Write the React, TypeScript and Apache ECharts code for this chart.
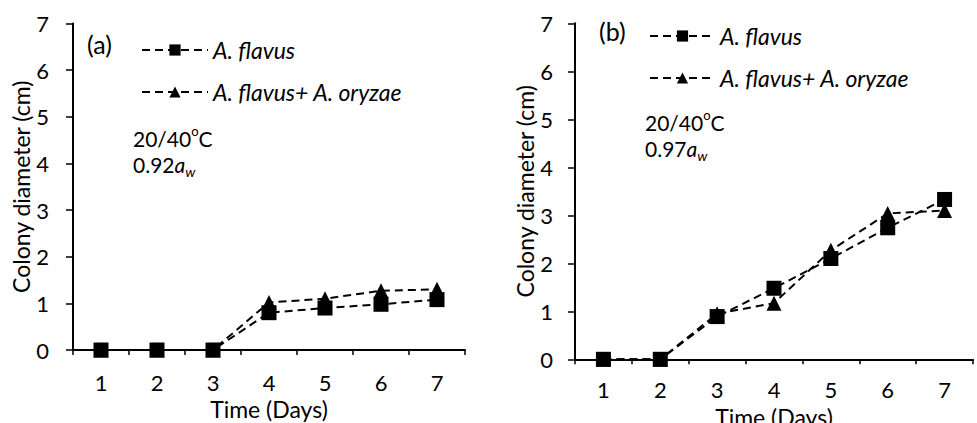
import React, { useEffect, useRef } from "react";
import * as echarts from "echarts";

const days = ["1", "2", "3", "4", "5", "6", "7"];
const flavusA = [0, 0, 0, 0.8, 0.9, 0.98, 1.08];
const mixA = [0, 0, 0, 1.02, 1.1, 1.27, 1.3];
const flavusB = [0, 0, 0.89, 1.48, 2.1, 2.74, 3.33];
const mixB = [0, 0, 0.95, 1.17, 2.27, 3.04, 3.1];
const nameFlavus = "A. flavus";
const nameMix = "A. flavus+ A. oryzae";

const FONT = "Lato";

export default function App() {
  const ref = useRef<HTMLDivElement>(null);
  useEffect(() => {
    document.body.style.margin = "0";
    const chart = echarts.init(ref.current!, null, { renderer: "svg" });
    const axisText = { color: "#000", fontFamily: FONT, fontSize: 22 };
    const nameText = { color: "#000", fontFamily: FONT, fontSize: 23 };
    const mkX = (gi: number, gap: number, margin: number) => ({
      type: "category",
      gridIndex: gi,
      data: days,
      boundaryGap: true,
      name: "Time (Days)",
      nameLocation: "middle",
      nameGap: gap,
      nameTextStyle: nameText,
      axisLine: { lineStyle: { color: "#000", width: 2 } },
      axisTick: { show: true, length: 5, lineStyle: { color: "#000", width: 1.5 } },
      axisLabel: { ...axisText, margin },
      splitLine: { show: false },
    });
    const mkY = (gi: number, gap: number, margin: number) => ({
      type: "value",
      gridIndex: gi,
      min: 0,
      max: 7,
      interval: 1,
      name: "Colony diameter (cm)",
      nameLocation: "middle",
      nameGap: gap,
      nameTextStyle: nameText,
      axisLine: { show: true, lineStyle: { color: "#000", width: 2 } },
      axisTick: { show: true, length: 7, lineStyle: { color: "#000", width: 1.5 } },
      axisLabel: { ...axisText, margin },
      splitLine: { show: false },
    });
    const line = { color: "#000", width: 2, type: [8, 5] };
    const mkS = (name: string, data: number[], gi: number, sym: string, size: number) => ({
      type: "line",
      name,
      xAxisIndex: gi,
      yAxisIndex: gi,
      data,
      symbol: sym,
      symbolSize: size,
      itemStyle: { color: "#000" },
      lineStyle: line,
    });
    const legendText = {
      color: "#000",
      fontFamily: FONT,
      fontSize: 23,
      fontStyle: "italic",
      lineHeight: 26,
      padding: [0, 0, 0, 0],
    };
    const rich = {
      n: { fontFamily: FONT, fontSize: 21, color: "#000", lineHeight: 28 },
      o: { fontFamily: FONT, fontSize: 13, color: "#000", lineHeight: 16, verticalAlign: "top" },
      a: { fontFamily: FONT, fontSize: 21, color: "#000", fontStyle: "italic", lineHeight: 28 },
      w: { fontFamily: FONT, fontSize: 14, color: "#000", fontStyle: "italic", lineHeight: 16, verticalAlign: "bottom" },
    };
    const note = (x: number, y: number, aw: string) => [
      { type: "text", left: x, top: y, style: { text: "{n|20/40}{o|o}{n|C}", rich } },
      { type: "text", left: x, top: y + 30, style: { text: `{n|${aw}}{a|a}{w|w}`, rich } },
    ];
    chart.setOption({
      animation: false,
      grid: [
        { left: 73, top: 23.5, width: 392, height: 326.5, outerBoundsMode: "none", containLabel: false },
        { left: 575, top: 23.3, width: 398, height: 336, outerBoundsMode: "none", containLabel: false },
      ],
      xAxis: [mkX(0, 35, 21), mkX(1, 37, 19)],
      yAxis: [mkY(0, 38, 24), mkY(1, 38, 22)],
      legend: [
        {
          orient: "vertical",
          left: 136,
          top: 32,
          itemWidth: 66,
          itemHeight: 14,
          itemGap: 16,
          textStyle: legendText,
          data: [nameFlavus, nameMix],
        },
        {
          orient: "vertical",
          left: 644,
          top: 18,
          itemWidth: 65,
          itemHeight: 14,
          itemGap: 16,
          textStyle: legendText,
          data: [nameFlavus, nameMix],
        },
      ],
      graphic: [
        { type: "text", left: 87, top: 31, style: { text: "(a)", fontFamily: FONT, fontSize: 25, fill: "#000" } },
        { type: "text", left: 599, top: 18, style: { text: "(b)", fontFamily: FONT, fontSize: 25, fill: "#000" } },
        ...note(133, 124, "0.92"),
        ...note(645, 108, "0.97"),
      ],
      series: [
        mkS(nameFlavus, flavusA, 0, "rect", 15),
        mkS(nameMix, mixA, 0, "triangle", 15),
        mkS(nameFlavus, flavusB, 1, "rect", 15),
        mkS(nameMix, mixB, 1, "triangle", 15),
      ],
    });
    return () => chart.dispose();
  }, []);
  return <div ref={ref} style={{ width: 977, height: 423 }} />;
}
